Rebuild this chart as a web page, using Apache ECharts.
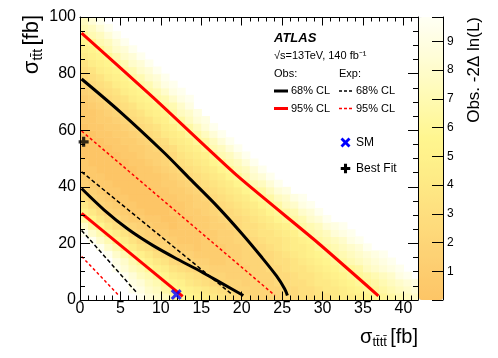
<!DOCTYPE html>
<html><head><meta charset="utf-8">
<script src="https://cdn.jsdelivr.net/npm/echarts@6/dist/echarts.min.js"></script>
<style>html,body{margin:0;padding:0;background:#fff}#c{width:498px;height:358px}</style>
</head><body><div id="c"></div>
<script>
// ---------------- data ----------------
const xTicks = [0, 5, 10, 15, 20, 25, 30, 35, 40];
const yTicks = [0, 20, 40, 60, 80, 100];
const zTicks = [1, 2, 3, 4, 5, 6, 7, 8, 9];

const heatX = [0.5,1.5,2.5,3.5,4.5,5.5,6.5,7.5,8.5,9.5,10.5,11.5,12.5,13.5,14.5,15.5,16.5,17.5,18.5,19.5,20.5,
  21.5,22.5,23.5,24.5,25.5,26.5,27.5,28.5,29.5,30.5,31.5,32.5,33.5,34.5,35.5,36.5,37.5,38.5,39.5,40.5,41.5];
const heatY = [1.25,3.75,6.25,8.75,11.25,13.75,16.25,18.75,21.25,23.75,26.25,28.75,31.25,33.75,36.25,38.75,
  41.25,43.75,46.25,48.75,51.25,53.75,56.25,58.75,61.25,63.75,66.25,68.75,71.25,73.75,76.25,78.75,81.25,
  83.75,86.25,88.75,91.25,93.75,96.25,98.75];
// Obs. -2 delta ln(L), one string per row (bottom row first).
// Each character is the value in half units (base-36 digit / 2); '.' = above the scale (white).
const heatRows = [
  ".......jhgfdcba9876554444556677899abccdefg",
  "......jigfdcba9876544444455667889abccdefgh",
  "......ihfecba8765444344455667889abccdefghi",
  ".....jhfecb98765443334445567789abccdefgij.",
  "....jhfeca97654433333445567789abccdfghij..",
  "....igeca87544332233444566789abcdefghij...",
  "...jgeca86543322223344556789abcdefghij....",
  "..jgeb9764432212223345567899acdefghj......",
  ".jgeb9754332111223344567789abdefgij.......",
  "jgeb9754322111122334567789acdefhij........",
  "gdb8654321101122334566789acdefhij.........",
  "db8653221100112234556789bcdeghj...........",
  "a8643211000112234556789bcdeghj............",
  "8643211000011233456789bcdfgij.............",
  "643211000011223456789bcdfgij..............",
  "43211000011223456789bcdfhi................",
  "3211000011223456789bcefhj.................",
  "211000011123456789bceghj..................",
  "11000001123456789bcefhj...................",
  "1000001123456789bcefhj....................",
  "000001123345789acefhj.....................",
  "00001122345689acefhj......................",
  "0001122345689acdfhj.......................",
  "001122345689acdfhj........................",
  "01122345679acdfhj.........................",
  "1122345679acdfhi..........................",
  "112345679abdfgi...........................",
  "12345679abdegi............................",
  "2345679abdegij............................",
  "345679abdegij.............................",
  "45679abdegij..............................",
  "5679abdeghj...............................",
  "679abdeghj................................",
  "79abdeghj.................................",
  "9abceghj..................................",
  "abceghj...................................",
  "bcefhj....................................",
  "cefhj.....................................",
  "efhj......................................",
  "fhj......................................."
];

const obs68Outer = [[0.2,78.1],[5,66.4],[10.35,52.2],[13.6,42.8],[17,33],[20,23.5],[22.5,15],[24.3,8.5],[25.3,4],[25.65,1.6]];
const obs68Inner = [[0.2,39.4],[3,31.8],[6,24.9],[9,19.3],[12,14.5],[15,10.0],[17.6,5.8],[20.2,1.6]];
const obs95Outer = [[0.2,94.3],[9.1,71.4],[19.4,44.0],[29.3,20.5],[36.9,1.5]];
const obs95Inner = [[0.2,30.6],[12.7,1.3]];
const exp68Outer = [[0.2,45.3],[18.7,2.2]];
const exp68Inner = [[0.2,24.6],[7.1,2.3]];
const exp95Outer = [[0.2,59.7],[24.1,1.6]];
const exp95Inner = [[0.2,15.4],[4.8,1.6]];

const smPoint = [[11.9, 1.9]];
const bestFitPoint = [[0.45, 55.9]];

// ---------------- build ----------------
const heatData = [];
heatRows.forEach(function (row, j) {
  for (let i = 0; i < heatX.length; i++) {
    const ch = row.charAt(i);
    if (!ch || ch === '.') continue;
    heatData.push([heatX[i], heatY[j], parseInt(ch, 36) / 2]);
  }
});

const FONT = 'Liberation Sans';
const XPATH = 'path://M0,2 L2,0 L5,3 L8,0 L10,2 L7,5 L10,8 L8,10 L5,7 L2,10 L0,8 L3,5 Z';
const PPATH = 'path://M3.4,0 H6.6 V3.4 H10 V6.6 H6.6 V10 H3.4 V6.6 H0 V3.4 H3.4 Z';
const X_SHAPE = [[0,2],[2,0],[5,3],[8,0],[10,2],[7,5],[10,8],[8,10],[5,7],[2,10],[0,8],[3,5]];
const P_SHAPE = [[3.4,0],[6.6,0],[6.6,3.4],[10,3.4],[10,6.6],[6.6,6.6],[6.6,10],[3.4,10],[3.4,6.6],[0,6.6],[0,3.4],[3.4,3.4]];
function iconPoints(shape, cx, cy, size) {
  const k = size / 10;
  return shape.map(function (p) { return [cx + (p[0] - 5) * k, cy + (p[1] - 5) * k]; });
}

function axisCommon(len, minorLen, minorSplit) {
  return {
    z: 10,
    axisLine: { show: true, onZero: false, lineStyle: { color: '#000', width: 1 } },
    axisTick: { show: true, inside: true, length: len, lineStyle: { color: '#000', width: 1 } },
    minorTick: { show: true, splitNumber: minorSplit, length: minorLen, lineStyle: { color: '#000', width: 1 } },
    splitLine: { show: false },
    minorSplitLine: { show: false }
  };
}

function lineSeries(name, data, color, width, dash, smooth) {
  return {
    name: name, type: 'line', data: data, xAxisIndex: 0, yAxisIndex: 0,
    showSymbol: false, symbol: 'none', smooth: smooth || false, clip: true, z: 5,
    lineStyle: { color: color, width: width, type: dash || 'solid', cap: 'butt' },
    silent: true
  };
}

const chart = echarts.init(document.getElementById('c'), null, { renderer: 'canvas' });

const option = {
  animation: false,
  backgroundColor: '#ffffff',
  textStyle: { fontFamily: FONT },
  grid: [
    { left: 80, right: 80, top: 17, bottom: 58 },
    { left: 418, width: 25, top: 17, bottom: 58 }
  ],
  xAxis: [
    Object.assign({ gridIndex: 0, type: 'value', min: 0, max: 41.8, interval: 5, position: 'bottom',
      axisLabel: { fontSize: 16, color: '#000', margin: 1, fontFamily: FONT,
        formatter: function (v) { return xTicks.indexOf(v) >= 0 ? String(v) : ''; } } },
      axisCommon(8.5, 4.5, 5)),
    Object.assign({ gridIndex: 0, type: 'value', min: 0, max: 41.8, interval: 5, position: 'top',
      axisLabel: { show: false } }, axisCommon(8.5, 4.5, 5)),
    { gridIndex: 1, type: 'value', min: 0, max: 1, show: false }
  ],
  yAxis: [
    Object.assign({ gridIndex: 0, type: 'value', min: 0, max: 100, interval: 20, position: 'left',
      axisLabel: { fontSize: 16, color: '#000', margin: 4, fontFamily: FONT,
        formatter: function (v) { return yTicks.indexOf(v) >= 0 ? String(v) : ''; } } },
      axisCommon(10, 5, 4)),
    Object.assign({ gridIndex: 0, type: 'value', min: 0, max: 100, interval: 20, position: 'right',
      axisLabel: { show: false } }, axisCommon(10, 5, 4)),
    { gridIndex: 1, type: 'value', min: 0, max: 9.85, interval: 1, position: 'right', z: 10,
      axisLine: { show: true, onZero: false, lineStyle: { color: '#000', width: 1 } },
      axisTick: { show: true, inside: true, length: 11, lineStyle: { color: '#000' } },
      splitLine: { show: false },
      axisLabel: { fontSize: 12, color: '#000', margin: 4, fontFamily: FONT,
        formatter: function (v) { return zTicks.indexOf(v) >= 0 ? String(v) : ''; } } }
  ],
  visualMap: {
    type: 'continuous', min: 0, max: 9.85, dimension: 2, seriesIndex: 0,
    show: true, calculable: false, hoverLink: false, orient: 'vertical', z: 2,
    left: 419, top: 17, itemWidth: 24, itemHeight: 283, padding: 0,
    inRange: { color: ['#fdc566', '#fdd073', '#fedd7d', '#feeb86', '#fff68f', '#fffab3', '#fffdd6', '#fffff4'] },
    textStyle: { color: 'transparent' }
  },
  series: [
    {
      name: 'Obs. -2ΔlnL', type: 'custom', xAxisIndex: 0, yAxisIndex: 0, data: heatData,
      encode: { x: 0, y: 1 }, z: 1, silent: true,
      renderItem: function (params, api) {
        const x = api.value(0), y = api.value(1);
        const p0 = api.coord([x - 0.5, y + 1.25]);
        const p1 = api.coord([x + 0.5, y - 1.25]);
        const cs = params.coordSys;
        const x0 = Math.max(p0[0], cs.x), x1 = Math.min(p1[0] + 0.6, cs.x + cs.width);
        const y0 = Math.max(p0[1], cs.y), y1 = Math.min(p1[1] + 0.6, cs.y + cs.height);
        if (x1 <= x0 || y1 <= y0) return null;
        return { type: 'rect', shape: { x: x0, y: y0, width: x1 - x0, height: y1 - y0 },
          style: { fill: api.visual('color') } };
      }
    },
    lineSeries('Obs 68% CL outer', obs68Outer, '#000000', 3, 'solid', 0.3),
    lineSeries('Obs 68% CL inner', obs68Inner, '#000000', 3, 'solid', 0.3),
    lineSeries('Obs 95% CL outer', obs95Outer, '#ff0000', 3, 'solid', 0.2),
    lineSeries('Obs 95% CL inner', obs95Inner, '#ff0000', 3, 'solid'),
    lineSeries('Exp 68% CL outer', exp68Outer, '#000000', 1.5, [4, 2.5]),
    lineSeries('Exp 68% CL inner', exp68Inner, '#000000', 1.5, [4, 2.5]),
    lineSeries('Exp 95% CL outer', exp95Outer, '#ff0000', 1.5, [3, 2.5]),
    lineSeries('Exp 95% CL inner', exp95Inner, '#ff0000', 1.5, [3, 2.5]),
    { name: 'SM', type: 'scatter', data: smPoint, xAxisIndex: 0, yAxisIndex: 0, symbol: XPATH,
      symbolSize: 11, itemStyle: { color: '#0000ff' }, z: 12, clip: false, silent: true },
    { name: 'Best Fit', type: 'scatter', data: bestFitPoint, xAxisIndex: 0, yAxisIndex: 0, symbol: PPATH,
      symbolSize: 10, itemStyle: { color: '#000000' }, z: 12, clip: false, silent: true },
    { type: 'scatter', xAxisIndex: 2, yAxisIndex: 2, data: [], silent: true }
  ],
  graphic: [
    { type: 'text', x: 418, y: 337, z: 20, style: {
      text: '{s|σ}{b|tt̄tt̄} {s|[fb]}', textAlign: 'right', textVerticalAlign: 'middle', fill: '#000',
      rich: { s: { fontSize: 20, fontFamily: FONT }, b: { fontSize: 13, fontFamily: FONT, padding: [11, 0, 0, 0] } } } },
    { type: 'text', x: 32, y: 15, rotation: Math.PI / 2, z: 20, style: {
      text: '{s|σ}{b|tt̄t} {s|[fb]}', textAlign: 'right', textVerticalAlign: 'middle', fill: '#000',
      rich: { s: { fontSize: 22, fontFamily: FONT }, b: { fontSize: 14, fontFamily: FONT, padding: [12, 0, 0, 0] } } } },
    { type: 'text', x: 474, y: 17, rotation: Math.PI / 2, z: 20, style: {
      text: 'Obs. -2Δ ln(L)', textAlign: 'right', textVerticalAlign: 'middle', fill: '#000',
      font: '17px "Liberation Sans"' } },
    { type: 'text', x: 274, y: 38, z: 20, style: { text: 'ATLAS', fill: '#000',
      font: 'italic bold 13px "Liberation Sans"', textVerticalAlign: 'middle' } },
    { type: 'text', x: 274, y: 56, z: 20, style: { text: '√s=13TeV, 140 fb⁻¹', fill: '#000',
      font: '11px "Liberation Sans"', textVerticalAlign: 'middle' } },
    { type: 'text', x: 274, y: 74, z: 20, style: { text: 'Obs:', fill: '#000',
      font: '11px "Liberation Sans"', textVerticalAlign: 'middle' } },
    { type: 'text', x: 339, y: 74, z: 20, style: { text: 'Exp:', fill: '#000',
      font: '11px "Liberation Sans"', textVerticalAlign: 'middle' } },
    { type: 'line', z: 20, shape: { x1: 274, y1: 91, x2: 288, y2: 91 }, style: { stroke: '#000', lineWidth: 3 } },
    { type: 'text', x: 291, y: 91, z: 20, style: { text: '68% CL', fill: '#000',
      font: '11px "Liberation Sans"', textVerticalAlign: 'middle' } },
    { type: 'line', z: 20, shape: { x1: 339, y1: 91, x2: 353, y2: 91 }, style: { stroke: '#000', lineWidth: 1.5, lineDash: [3, 2] } },
    { type: 'text', x: 356, y: 91, z: 20, style: { text: '68% CL', fill: '#000',
      font: '11px "Liberation Sans"', textVerticalAlign: 'middle' } },
    { type: 'line', z: 20, shape: { x1: 274, y1: 108.5, x2: 288, y2: 108.5 }, style: { stroke: '#ff0000', lineWidth: 3 } },
    { type: 'text', x: 291, y: 108.5, z: 20, style: { text: '95% CL', fill: '#000',
      font: '11px "Liberation Sans"', textVerticalAlign: 'middle' } },
    { type: 'line', z: 20, shape: { x1: 339, y1: 108.5, x2: 353, y2: 108.5 }, style: { stroke: '#ff0000', lineWidth: 1.5, lineDash: [3, 2] } },
    { type: 'text', x: 356, y: 108.5, z: 20, style: { text: '95% CL', fill: '#000',
      font: '11px "Liberation Sans"', textVerticalAlign: 'middle' } },
    { type: 'polygon', z: 20, shape: { points: iconPoints(X_SHAPE, 345.5, 142.5, 10) }, style: { fill: '#0000ff' } },
    { type: 'text', x: 356, y: 143, z: 20, style: { text: 'SM', fill: '#000',
      font: '12px "Liberation Sans"', textVerticalAlign: 'middle' } },
    { type: 'polygon', z: 20, shape: { points: iconPoints(P_SHAPE, 345.5, 168.5, 9.5) }, style: { fill: '#000' } },
    { type: 'text', x: 356, y: 169, z: 20, style: { text: 'Best Fit', fill: '#000',
      font: '12px "Liberation Sans"', textVerticalAlign: 'middle' } }
  ]
};
chart.setOption(option);
</script>
</body></html>
